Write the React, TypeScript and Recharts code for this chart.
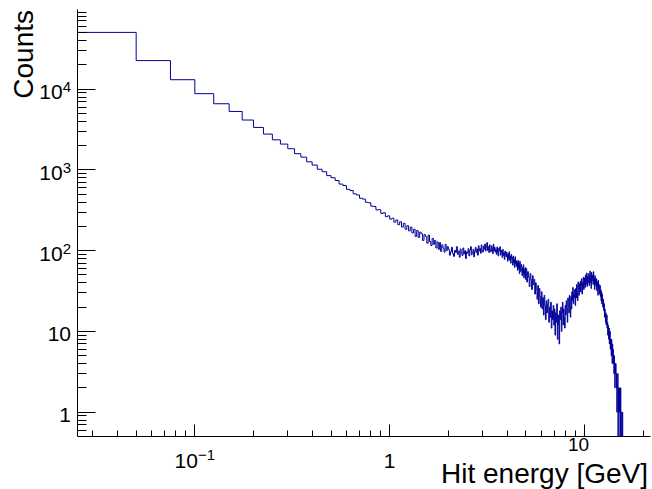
import { Label, Line, LineChart, XAxis, YAxis } from "recharts";

// hit energy histogram, stored as bin contents per segment (bin edges in GeV)
const lowStart = 0.025;
const lowWidth = 0.025;
const lowCounts = [
  50500, 22600, 13100, 8800, 6600, 5300, 4150, 3360, 2780, 2360,
  2090, 1830, 1590, 1440, 1260, 1150, 1020, 950, 850, 800,
  740, 668, 640, 575, 556, 505, 490, 446, 436, 398,
  392, 356, 352, 320, 322, 290, 295, 264, 270, 246,
  252, 226, 240, 210, 228, 196, 218, 184, 204, 176,
  196, 166, 184, 150, 178, 146, 170, 162, 134, 158,
  150, 124, 156, 130, 116, 142, 120, 134, 108, 128,
  104, 126, 98, 118, 108, 96, 120, 100, 112,
];

const midStart = 2.0;
const midWidth = 0.025;
const midCounts = [
  104, 88, 97, 110, 92, 85, 101, 95, 112, 90,
  99, 83, 105, 94, 87, 108, 91, 100, 80, 97,
  93, 106, 86, 101, 112, 89, 95, 104, 84, 99,
  110, 94, 105, 88, 115, 99, 107, 93, 118, 101,
  96, 114, 104, 121, 99, 110, 126, 101, 112, 95,
  118, 103, 97, 115, 108, 92, 120, 100, 110, 96,
  104, 90, 111, 95, 86, 107, 99, 112, 88, 101,
  95, 82, 104, 87, 93, 78, 99, 89, 84, 96,
  88, 74, 92, 80, 97, 76, 85, 70, 90, 79,
  82, 66, 86, 71, 78, 62, 84, 69, 75, 64,
  72, 57, 76, 60, 70, 52, 74, 63, 55, 68,
  64, 49, 61, 53, 67, 46, 58, 51, 62, 44,
];

const highStart = 5.0;
const highWidth = 0.05;
const highCounts = [
  60, 41, 55, 47, 36, 52, 44, 33, 49, 38,
  44, 29, 40, 33, 25, 37, 22, 34, 27, 20,
  31, 19, 26, 16, 28, 21, 14, 24, 17, 22,
  25, 13, 20, 15, 23, 11, 18, 14, 21, 12,
  19, 9, 17, 13, 22, 8, 16, 12, 7, 18,
  14, 20, 10, 17, 23, 12, 19, 15, 11, 21,
  16, 24, 19, 13, 26, 21, 17, 28, 20, 15,
  27, 19, 31, 24, 35, 22, 29, 26, 33, 21,
  34, 26, 38, 30, 24, 41, 33, 28, 39, 31,
  42, 31, 37, 45, 29, 40, 35, 47, 33, 38,
  46, 35, 50, 38, 43, 53, 36, 48, 40, 45,
  52, 37, 47, 56, 40, 49, 34, 54, 42, 46,
  50, 38, 55, 41, 46, 33, 49, 39, 44, 36,
  45, 32, 41, 36, 28, 43, 34, 38, 29, 35,
  37, 27, 33, 24, 31, 22, 29, 26, 20, 25,
  23, 18, 22, 15, 19, 16, 13, 17, 12, 14,
  16, 11, 13, 9, 12, 10, 8, 11, 7, 9,
  10, 6, 8, 7, 5, 8, 6, 4, 7, 5,
  6, 4, 5, 3, 5, 4, 2, 4, 3, 4,
  3, 2, 3, 1, 2, 2, 3, 0, 2, 1,
  2, 1, 1, 2, 0, 1, 2, 0, 1, 1,
  1, 0, 1, 1,
];

const xMajorTicks = [0.1, 1, 10];
const xMinorTicks = [
  0.03, 0.04, 0.05, 0.06, 0.07, 0.08, 0.09,
  0.2, 0.3, 0.4, 0.5, 0.6, 0.7, 0.8, 0.9,
  2, 3, 4, 5, 6, 7, 8, 9, 20,
];
const xTickLabels = [
  { base: "10", exp: "\u22121" },
  { base: "1", exp: "" },
  { base: "10", exp: "" },
];

const yMajorTicks = [1, 10, 100, 1000, 10000];
const yMinorTicks = [
  0.6, 0.7, 0.8, 0.9,
  2, 3, 4, 5, 6, 7, 8, 9,
  20, 30, 40, 50, 60, 70, 80, 90,
  200, 300, 400, 500, 600, 700, 800, 900,
  2000, 3000, 4000, 5000, 6000, 7000, 8000, 9000,
  20000, 30000, 40000, 50000, 60000, 70000, 80000, 90000,
];
const yTickLabels = [
  { base: "1", exp: "" },
  { base: "10", exp: "" },
  { base: "10", exp: "2" },
  { base: "10", exp: "3" },
  { base: "10", exp: "4" },
];

const xTitle = "Hit energy [GeV]";
const yTitle = "Counts";

const FONT = "'Liberation Sans', Arial, Helvetica, sans-serif";
const LINE_COLOR = "#000099";

// left bin edges -> step points, empty bins pushed below the axis (log scale)
const points: { e: number; c: number }[] = [];
lowCounts.forEach((c, i) => points.push({ e: lowStart + i * lowWidth, c }));
midCounts.forEach((c, i) => points.push({ e: midStart + i * midWidth, c }));
highCounts.forEach((c, i) => points.push({ e: highStart + i * highWidth, c }));
points.push({ e: highStart + highCounts.length * highWidth, c: 0 });
const chartData = points.map((p) => ({ e: p.e, c: p.c > 0 ? p.c : 0.2 }));

const crisp = (v: number) => Math.round(v - 0.5) + 0.5;

function XTick(props: any) {
  const { x, y, payload } = props;
  const idx = xMajorTicks.indexOf(payload.value);
  const major = idx >= 0;
  const xx = crisp(x);
  const label = major ? xTickLabels[idx] : null;
  const isTen = label && label.base === "10" && !label.exp;
  return (
    <g>
      <line x1={xx} x2={xx} y1={y} y2={y - (major ? 12 : 6)} stroke="#000" strokeWidth={1} />
      {label && (
        <text
          x={isTen ? x - 6 : x}
          y={isTen ? 451 : 468}
          textAnchor="middle"
          fontSize={isTen ? 19 : 21}
          fontFamily={FONT}
          fill="#000"
        >
          {label.base}
          {label.exp && (
            <tspan dy={-8} fontSize={15}>
              {label.exp}
            </tspan>
          )}
        </text>
      )}
    </g>
  );
}

function YTick(props: any) {
  const { x, y, payload } = props;
  const idx = yMajorTicks.indexOf(payload.value);
  const major = idx >= 0;
  const yy = crisp(y);
  const label = major ? yTickLabels[idx] : null;
  return (
    <g>
      <line x1={x} x2={x + (major ? 18 : 9)} y1={yy} y2={yy} stroke="#000" strokeWidth={1} />
      {label && (
        <text x={71} y={y + 10} textAnchor="end" fontSize={21} fontFamily={FONT} fill="#000">
          {label.base}
          {label.exp && (
            <tspan dy={-7} fontSize={15}>
              {label.exp}
            </tspan>
          )}
        </text>
      )}
    </g>
  );
}

export default function App() {
  return (
    <div style={{ position: "absolute", left: 0, top: 0, background: "#fff" }}>
      <LineChart
        width={652}
        height={489}
        data={chartData}
        margin={{ top: 9.5, right: 1.5, bottom: 0, left: 0.5 }}
      >
        <XAxis
          dataKey="e"
          type="number"
          scale="log"
          domain={[0.025, 21.8]}
          allowDataOverflow
          ticks={[...xMinorTicks, ...xMajorTicks].sort((a, b) => a - b)}
          interval={0}
          height={52.5}
          tickSize={0}
          tickMargin={0}
          tickLine={false}
          tick={XTick}
          axisLine={{ stroke: "#000", strokeWidth: 1 }}
        >
          <Label
            content={() => (
              <text x={648} y={483} textAnchor="end" fontSize={28} fontFamily={FONT} fill="#000">
                {xTitle}
              </text>
            )}
          />
        </XAxis>
        <XAxis
          xAxisId="top"
          orientation="top"
          type="number"
          domain={[0, 1]}
          height={0}
          tick={false}
          tickLine={false}
          axisLine={{ stroke: "#000", strokeWidth: 1 }}
        />
        <YAxis
          type="number"
          scale="log"
          domain={[0.5, 97000]}
          allowDataOverflow
          ticks={[...yMinorTicks, ...yMajorTicks].sort((a, b) => a - b)}
          interval={0}
          width={77}
          tickSize={0}
          tickMargin={0}
          tickLine={false}
          tick={YTick}
          axisLine={{ stroke: "#000", strokeWidth: 1 }}
        >
          <Label
            content={() => (
              <text
                x={33}
                y={10}
                transform="rotate(-90 33 10)"
                textAnchor="end"
                fontSize={28}
                fontFamily={FONT}
                fill="#000"
              >
                {yTitle}
              </text>
            )}
          />
        </YAxis>
        <YAxis
          yAxisId="right"
          orientation="right"
          type="number"
          domain={[0, 1]}
          width={0}
          tick={false}
          tickLine={false}
          axisLine={{ stroke: "#000", strokeWidth: 1 }}
        />
        <Line
          type="stepAfter"
          dataKey="c"
          stroke={LINE_COLOR}
          strokeWidth={1}
          dot={false}
          isAnimationActive={false}
        />
      </LineChart>
    </div>
  );
}
